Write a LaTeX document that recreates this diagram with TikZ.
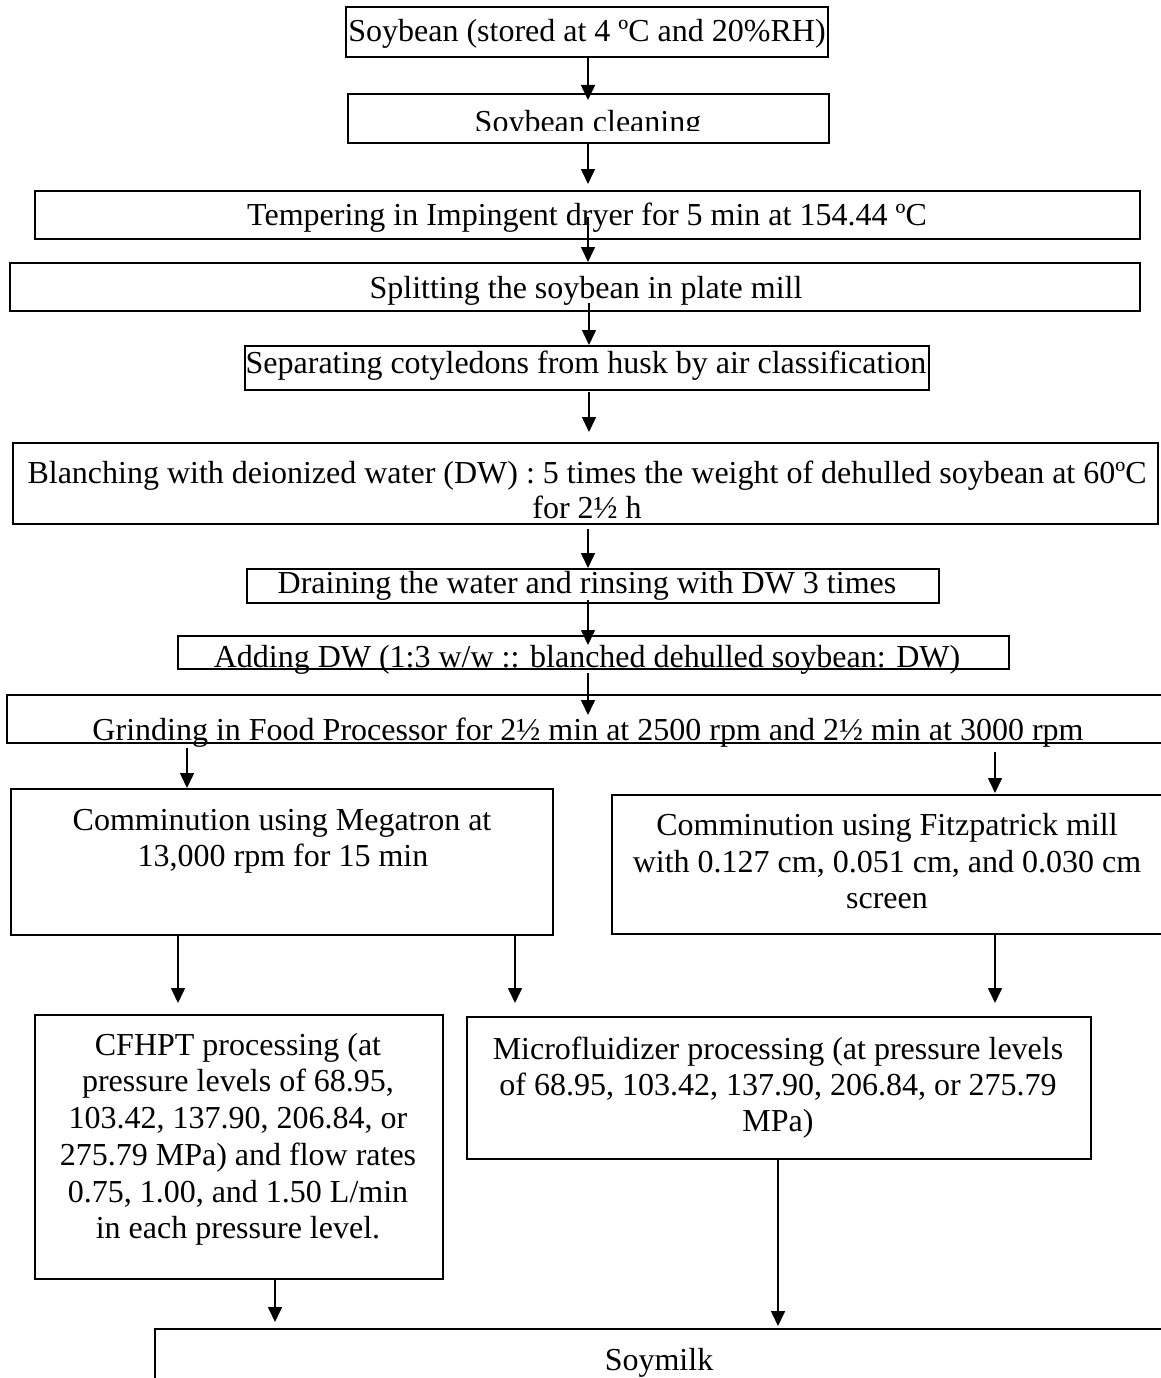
\documentclass[tikz,border=0pt]{standalone}
\usepackage{fontspec}
\setmainfont{Liberation Serif}
\usetikzlibrary{arrows.meta}
\tikzset{
  box/.style={draw=black, line width=2pt, inner sep=0pt, outer sep=0pt},
  txt/.style={inner sep=0pt, outer sep=0pt, anchor=base, font=\fontsize{32}{36.6}\selectfont},
  arr/.style={draw=black, line width=1.6pt, -{Triangle[length=15pt,width=14pt]}}
}
\newcommand{\bx}[5]{\node[box, minimum width={(#4)-(#2)}, minimum height={(#5)-(#3)}] (#1) at ({((#2)+(#4))/2},{((#3)+(#5))/2}) {};}
\newcommand{\ar}[4]{\coordinate (#1s) at (#2,#3); \coordinate (#1e) at (#2,#4); \draw[arr] (#1s) -- (#1e);}
\begin{document}
\begin{tikzpicture}[x=1pt,y=-1pt]
\useasboundingbox (0,0) rectangle (1161,1378);
\clip (0,0) rectangle (1161,1378);
\fill[white] (0,0) rectangle (1161,1378);
% boxes
\bx{b1}{346}{7}{828}{57}
\bx{b2}{348}{94}{829}{143}
\bx{b3}{35}{191}{1140}{239}
\bx{b4}{10}{263}{1140}{311}
\bx{b5}{245}{346}{929}{390}
\bx{b6}{13}{443}{1158}{524}
\bx{b7}{247}{569}{939}{603}
\bx{b8}{178}{636}{1009}{669}
\bx{b9}{7}{695}{1167}{743}
\bx{b10}{11}{789}{553}{935}
\bx{b11}{612}{795}{1163}{934}
\bx{b12}{35}{1015}{443}{1279}
\bx{b13}{467}{1017}{1091}{1159}
\bx{b14}{155}{1329}{1163}{1400}
% texts
\node[txt] (t1) at (587,42) {Soybean (stored at 4 ºC and 20\%RH)};
\begin{scope}
\clip (348,94) rectangle (829,131);
\node[txt] (t2) at (588,132) {Soybean cleaning};
\end{scope}
\node[txt] (t3) at (587,225) {Tempering in Impingent dryer for 5 min at 154.44 ºC};
\node[txt] (t4) at (586,298) {Splitting the soybean in plate mill};
\node[txt] (t5) at (586,373) {Separating cotyledons from husk by air classification};
\node[txt] (t6a) at (587,483) {Blanching with deionized water (DW) : 5 times the weight of dehulled soybean at 60ºC};
\node[txt] (t6b) at (587,518) {for 2½ h};
\node[txt] (t7) at (587,593) {Draining the water and rinsing with DW 3 times};
\node[txt] (t8) at (587,667) {Adding DW (1:3 w/w :: blanched dehulled soybean: DW)};
\node[txt] (t9) at (588,740) {Grinding in Food Processor for 2½ min at 2500 rpm and 2½ min at 3000 rpm};
\node[txt] (t10a) at (282,830) {Comminution using Megatron at};
\node[txt] (t10b) at (283,866) {13,000 rpm for 15 min};
\node[txt] (t11a) at (887,835) {Comminution using Fitzpatrick mill};
\node[txt] (t11b) at (887,872) {with 0.127 cm, 0.051 cm, and 0.030 cm};
\node[txt] (t11c) at (887,908) {screen};
\node[txt] (t12a) at (238,1055) {CFHPT processing (at};
\node[txt] (t12b) at (238,1091) {pressure levels of 68.95,};
\node[txt] (t12c) at (238,1128) {103.42, 137.90, 206.84, or};
\node[txt] (t12d) at (238,1165) {275.79 MPa) and flow rates};
\node[txt] (t12e) at (238,1202) {0.75, 1.00, and 1.50 L/min};
\node[txt] (t12f) at (238,1238) {in each pressure level.};
\node[txt] (t13a) at (778,1059) {Microfluidizer processing (at pressure levels};
\node[txt] (t13b) at (778,1095) {of 68.95, 103.42, 137.90, 206.84, or 275.79};
\node[txt] (t13c) at (778,1131) {MPa)};
\node[txt] (t14) at (659,1370) {Soymilk};
% arrows
\ar{a1}{588}{58}{100}
\ar{a2}{588}{143}{184}
\ar{a3}{588}{217}{262}
\ar{a4}{589}{303}{345}
\ar{a5}{589}{392}{432}
\ar{a6}{588}{529}{568}
\ar{a7}{588}{600}{645}
\ar{a8}{588}{673}{715}
\ar{a9}{187}{748}{788}
\ar{a10}{995}{752}{793}
\ar{a11}{178}{935}{1003}
\ar{a12}{515}{935}{1003}
\ar{a13}{995}{934}{1003}
\ar{a14}{275}{1279}{1322}
\ar{a15}{778}{1158}{1326}
\end{tikzpicture}
\end{document}
